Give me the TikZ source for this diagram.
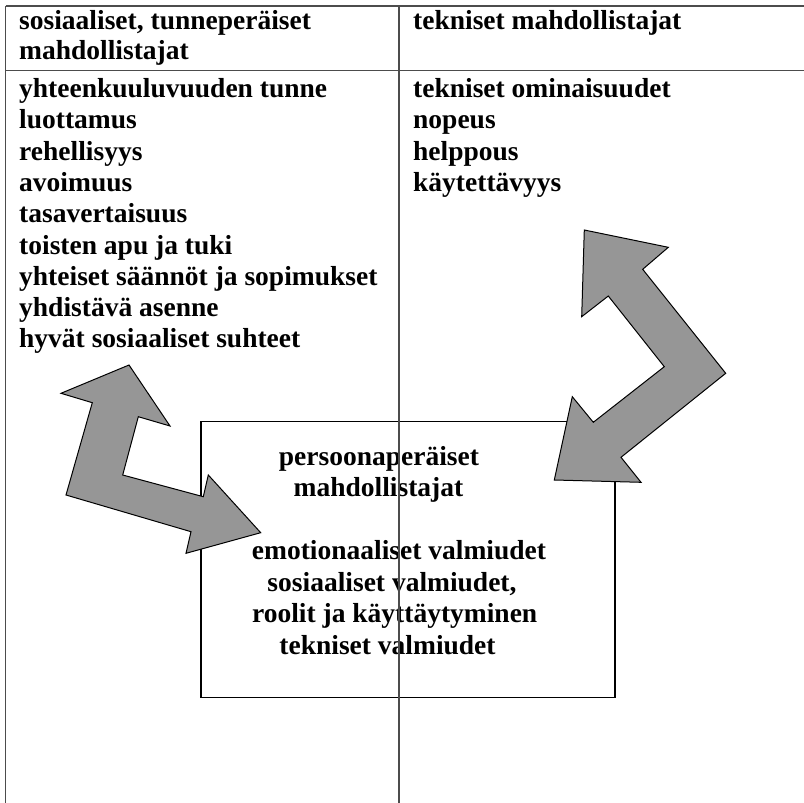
\documentclass[tikz,border=0pt]{standalone}
\usepackage{fontspec}
\setmainfont{Liberation Serif}
\begin{document}
\begin{tikzpicture}[x=1pt,y=-1pt,
  txt/.style={font=\fontsize{27.5}{31}\selectfont\bfseries, inner sep=0pt},
  rule/.style={draw=black!70, line width=1.3pt},
  frame/.style={draw=black, line width=1.2pt},
  bigarrow/.style={draw=black, line width=1pt, fill=black!41, line join=miter}]
\useasboundingbox (0,0) rectangle (804,803);

% table grid
\coordinate (tl) at (5.5,6);
\coordinate (tr) at (804,6);
\coordinate (hl) at (5.5,70.7);
\coordinate (hr) at (804,70.7);
\coordinate (bl) at (5.5,803);
\coordinate (mt) at (399,6);
\coordinate (mb) at (399,803);
\draw[rule] (tl) -- (tr);
\draw[rule] (hl) -- (hr);
\draw[rule] (tl) -- (bl);

% headers
\node[txt, anchor=base west] (h1a) at (19,30) {sosiaaliset, tunneperäiset};
\node[txt, anchor=base west] (h1b) at (19,59) {mahdollistajat};
\node[txt, anchor=base west] (h2) at (413,30) {tekniset mahdollistajat};

% left column list
\foreach \t [count=\i] in {yhteenkuuluvuuden tunne, luottamus, rehellisyys, avoimuus,
  tasavertaisuus, toisten apu ja tuki, yhteiset säännöt ja sopimukset,
  yhdistävä asenne, hyvät sosiaaliset suhteet}
  \node[txt, anchor=base west] (l\i) at (19,{97.5+31.3*(\i-1)}) {\t};

% right column list
\foreach \t [count=\i] in {tekniset ominaisuudet, nopeus, helppous, käytettävyys}
  \node[txt, anchor=base west] (r\i) at (413,{97.5+31.3*(\i-1)}) {\t};

% central box
\draw[frame] (201,421.5) rectangle (615,697.5);
\node[txt, anchor=base] (p1) at (379,465) {persoonaperäiset};
\node[txt, anchor=base] (p2) at (378.5,496) {mahdollistajat};
\node[txt, anchor=base] (p3) at (399,559) {emotionaaliset valmiudet};
\node[txt, anchor=base] (p4) at (392,591) {sosiaaliset valmiudet,};
\node[txt, anchor=base] (p5) at (394.7,622) {roolit ja käyttäytyminen};
\node[txt, anchor=base] (p6) at (387.5,654) {tekniset valmiudet};

% column divider
\draw[rule] (mt) -- (mb);

% left double arrow
\draw[bigarrow] (129,365) -- (170,426) -- (138.3,416.7) -- (122.7,475)
  -- (203.3,496.7) -- (208.3,475) -- (260.7,532.7) -- (186,553.3)
  -- (191,531.7) -- (66,495) -- (92.3,402.7) -- (61,393.3) -- cycle;

% right double arrow
\draw[bigarrow] (584.3,230) -- (668.3,247.3) -- (642.7,269.3) -- (725.7,373.3)
  -- (621,457.3) -- (641,482.3) -- (554.3,480) -- (572.3,396.7)
  -- (593.3,422.3) -- (664.3,366.7) -- (608.3,296) -- (581.7,316.7) -- cycle;
\end{tikzpicture}
\end{document}
